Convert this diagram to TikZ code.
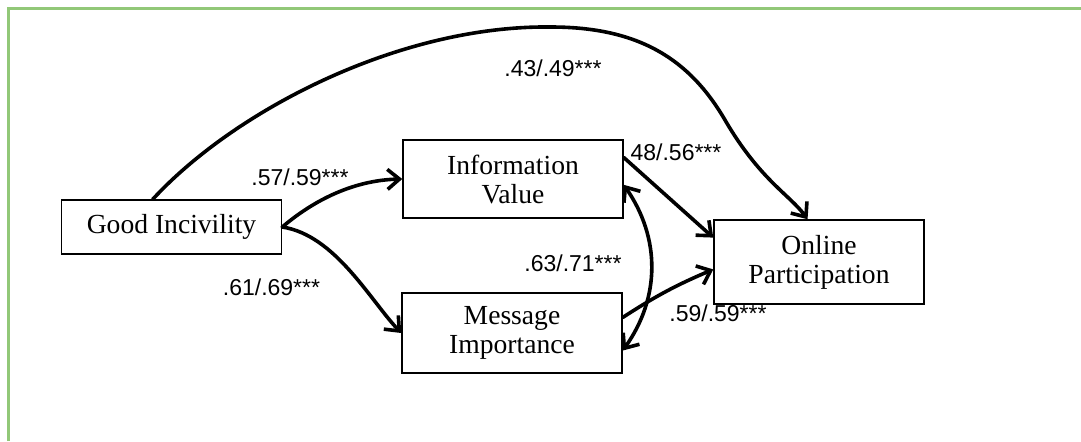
\documentclass[tikz,border=0pt]{standalone}
\usepackage{fontspec}
\setmainfont{Liberation Serif}
\newfontfamily\coeffont{Liberation Sans}
\usetikzlibrary{arrows.meta}
\definecolor{framegreen}{RGB}{146,200,120}

\begin{document}
\begin{tikzpicture}[x=0.5pt,y=-0.5pt]
    \useasboundingbox (0,0) rectangle (1081,441);
    \draw[framegreen,line width=1.5pt] (8,441) -- (8,8) -- (1081,8);
    \begin{scope}[every node/.style={draw,line width=0.75pt,align=center,inner sep=0pt,
        font=\fontsize{13.8}{14.5}\selectfont}]
        \node[minimum width=110pt,minimum height=27pt] (gi) at (171.5,227) {Good Incivility};
        \node[minimum width=110pt,minimum height=39pt] (iv) at (513,179) {Information\\Value};
        \node[minimum width=110pt,minimum height=40pt] (mi) at (512,333) {Message\\Importance};
        \node[minimum width=105pt,minimum height=42pt] (op) at (819,262) {Online\\Participation};
    \end{scope}
    \begin{scope}[>={Straight Barb[length=6pt,width=10pt]},
        every path/.style={line width=1.8pt,line cap=round}]
        \draw[->] (gi.124) .. controls (235,110) and (400,25) .. (551,27)
            .. controls (640,27) and (690,60) .. (725,120)
            .. controls (760,180) and (790,195) .. (op.105);
        \draw[->] (gi.east) .. controls (320,195) and (360,180) .. (iv.west);
        \draw[->] (gi.east) .. controls (335,235) and (370,300) .. (mi.west);
        \draw[->] (iv.11) -- (op.167);
        \draw[->] (mi.8) to[bend left=5] (op.184);
        \draw[<->] (iv.-3) to[bend left=35] (mi.-9);
    \end{scope}
    \begin{scope}[every node/.style={font=\coeffont\fontsize{11.5}{13}\selectfont,inner sep=0pt}]
        \node (c1) at (553,68) {.43/.49***};
        \node (c2) at (300,177) {.57/.59***};
        \node (c3) at (271.5,287) {.61/.69***};
        \node (c4) at (676,152) {48/.56***};
        \node (c5) at (573,263) {.63/.71***};
        \node (c6) at (718,313) {.59/.59***};
    \end{scope}
\end{tikzpicture}
\end{document}
